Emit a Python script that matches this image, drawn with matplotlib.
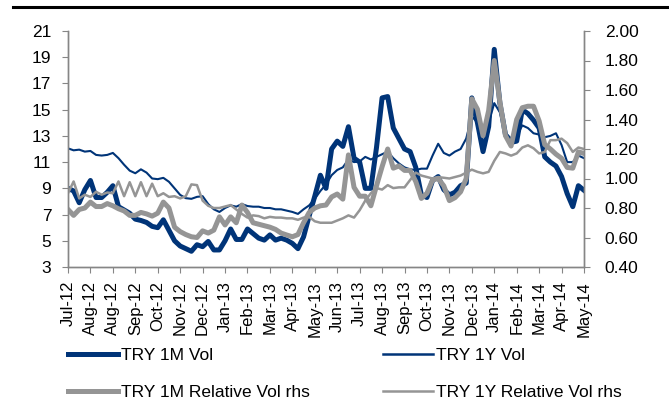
import numpy as np
import matplotlib
matplotlib.use("Agg")
import matplotlib.pyplot as plt
from matplotlib.lines import Line2D

plt.rcParams['font.family'] = ['Liberation Sans', 'DejaVu Sans']

# Month tick labels (axis ticks every ~29 days)
tick_labels = ['Jul-12', 'Aug-12', 'Aug-12', 'Sep-12', 'Oct-12', 'Nov-12', 'Dec-12',
               'Jan-13', 'Feb-13', 'Mar-13', 'Apr-13', 'May-13', 'Jun-13', 'Jul-13',
               'Aug-13', 'Sep-13', 'Oct-13', 'Nov-13', 'Dec-13', 'Jan-14', 'Feb-14',
               'Mar-14', 'Apr-14', 'May-14']

vol_1m = [9.0, 8.8, 7.9, 8.9, 9.6, 8.3, 8.3, 8.7, 9.2, 7.6, 7.35, 7.1,
          6.65, 6.55, 6.4, 6.1, 6.0, 6.6, 5.8, 5.0, 4.6, 4.4, 4.2, 4.7,
          4.55, 4.95, 4.3, 4.3, 5.0, 5.9, 5.1, 5.1, 5.9, 5.55, 5.2, 5.05,
          5.45, 5.05, 5.2, 5.05, 4.8, 4.4, 5.3, 6.9, 8.4, 10.0, 9.0, 12.0,
          12.6, 12.2, 13.7, 11.3, 11.0, 9.0, 9.0, 12.1, 15.9, 16.0, 13.6, 12.8,
          12.0, 11.8, 10.6, 8.5, 8.3, 9.6, 9.9, 8.9, 8.5, 8.7, 9.2, 9.4,
          15.9, 14.0, 11.8, 13.7, 19.6, 15.5, 13.1, 12.5, 12.6, 15.0, 14.7, 14.2,
          13.6, 11.4, 11.0, 10.7, 9.9, 8.6, 7.6, 9.2, 8.85]

vol_1y = [12.05, 11.9, 11.95, 11.8, 11.85, 11.55, 11.5, 11.55, 11.7, 11.3, 10.8, 10.35,
          10.15, 10.45, 10.2, 9.75, 9.7, 9.8, 9.5, 9.0, 8.5, 8.25, 8.2, 8.35,
          8.4, 7.8, 7.4, 7.2, 7.5, 7.7, 7.6, 7.8, 7.65, 7.6, 7.6, 7.5,
          7.5, 7.4, 7.4, 7.3, 7.2, 7.05, 7.4, 7.7, 8.2, 8.8, 9.3, 10.0,
          10.4, 10.6, 11.2, 11.0, 11.05, 11.4, 11.2, 11.4, 11.6, 11.8, 11.3, 10.9,
          10.6, 10.45, 10.4, 10.5, 10.5, 11.5, 12.4, 11.7, 11.5, 11.8, 12.0, 12.8,
          14.5, 14.0, 13.3, 14.0, 15.5, 14.8, 13.2, 12.8, 13.0, 13.8, 13.6, 13.2,
          13.1, 12.9, 13.0, 13.2, 12.3, 11.0, 11.0, 11.5, 11.3]

rel_1m = [0.79, 0.75, 0.79, 0.80, 0.84, 0.81, 0.81, 0.83, 0.815, 0.795, 0.78, 0.75,
          0.75, 0.77, 0.76, 0.745, 0.765, 0.84, 0.80, 0.67, 0.64, 0.62, 0.605, 0.60,
          0.645, 0.63, 0.65, 0.74, 0.685, 0.74, 0.70, 0.82, 0.77, 0.70, 0.69, 0.68,
          0.67, 0.655, 0.63, 0.617, 0.605, 0.62, 0.70, 0.77, 0.80, 0.815, 0.82, 0.875,
          0.895, 0.86, 1.16, 0.94, 0.88, 0.88, 0.815, 0.95, 1.08, 1.20, 1.07, 1.085,
          1.055, 1.055, 0.98, 0.865, 0.90, 0.99, 1.0, 0.95, 0.85, 0.87, 0.91, 1.0,
          1.54, 1.47, 1.29, 1.46, 1.80, 1.52, 1.29, 1.22, 1.40, 1.48, 1.49, 1.49,
          1.39, 1.23, 1.20, 1.165, 1.137, 1.075, 1.07, 1.18, 1.17]

rel_1y = [0.90, 0.98, 0.865, 0.89, 0.875, 0.91, 0.89, 0.905, 0.90, 0.98, 0.88, 0.975,
          0.88, 0.975, 0.88, 0.965, 0.88, 0.90, 0.875, 0.88, 0.865, 0.88, 0.96, 0.955,
          0.85, 0.815, 0.80, 0.80, 0.81, 0.82, 0.79, 0.76, 0.735, 0.75, 0.745, 0.73,
          0.74, 0.735, 0.735, 0.73, 0.73, 0.72, 0.735, 0.74, 0.71, 0.70, 0.70, 0.70,
          0.715, 0.73, 0.75, 0.735, 0.785, 0.85, 0.90, 0.935, 0.925, 0.955, 0.935, 0.94,
          0.94, 0.99, 1.04, 1.02, 1.01, 1.0, 1.01, 1.005, 1.0, 1.01, 1.02, 1.04,
          1.06, 1.045, 1.035, 1.045, 1.12, 1.18, 1.17, 1.155, 1.17, 1.21, 1.225, 1.205,
          1.17, 1.18, 1.26, 1.26, 1.27, 1.24, 1.18, 1.21, 1.20]

navy = '#003478'
grey = '#959595'
spine_c = '#868686'

x = np.arange(len(vol_1m)) / 4.0

fig = plt.figure(figsize=(6.69, 4.16), dpi=100)
ax = fig.add_axes([68 / 669, 1 - 267 / 416, (584 - 68) / 669, (267 - 31) / 416])
ax2 = ax.twinx()

ax.plot(x, vol_1m, color=navy, lw=3.6, solid_joinstyle='round')
ax.plot(x, vol_1y, color=navy, lw=1.5)
ax2.plot(x, rel_1y, color=grey, lw=1.8)
ax2.plot(x, rel_1m, color=grey, lw=3.6, solid_joinstyle='round')

ax.set_xlim(0, len(tick_labels) - 1)
ax.set_ylim(3, 21)
ax.set_yticks(np.arange(3, 22, 2))
ax2.set_ylim(0.4, 2.0)
ax2.set_yticks(np.arange(0.4, 2.01, 0.2))
ax2.set_yticklabels(['%.2f' % v for v in np.arange(0.4, 2.01, 0.2)])
ax.set_xticks(range(len(tick_labels)))
ax.set_xticklabels(tick_labels, rotation=90)

for a in (ax, ax2):
    a.spines['top'].set_visible(False)
    for s in ('left', 'right', 'bottom'):
        a.spines[s].set_color(spine_c)
        a.spines[s].set_linewidth(1.0)
ax.tick_params(axis='y', direction='out', length=4, color=spine_c, labelsize=12.5, pad=8)
ax2.tick_params(axis='y', direction='out', length=4, color=spine_c, labelsize=12.5, pad=11)
ax.tick_params(axis='x', direction='out', length=4, color=spine_c, labelsize=12, pad=6)

# black rule along the top
fig.add_artist(Line2D([13 / 669, 1.0], [1 - 7 / 416, 1 - 7 / 416], color='black', lw=2.2))

handles = [Line2D([], [], color=navy, lw=3.6), Line2D([], [], color=grey, lw=3.6),
           Line2D([], [], color=navy, lw=1.8), Line2D([], [], color=grey, lw=1.8)]
labels = ['TRY 1M Vol', 'TRY 1M Relative Vol rhs', 'TRY 1Y Vol', 'TRY 1Y Relative Vol rhs']
fig.legend(handles, labels, ncol=2, loc='upper left', bbox_to_anchor=(68 / 669, 1 - 348 / 416),
           frameon=False, fontsize=12.5, handlelength=2.9, handletextpad=0.15,
           columnspacing=4.2, labelspacing=1.25, borderpad=0, borderaxespad=0)

fig.savefig('out.png', dpi=100)
